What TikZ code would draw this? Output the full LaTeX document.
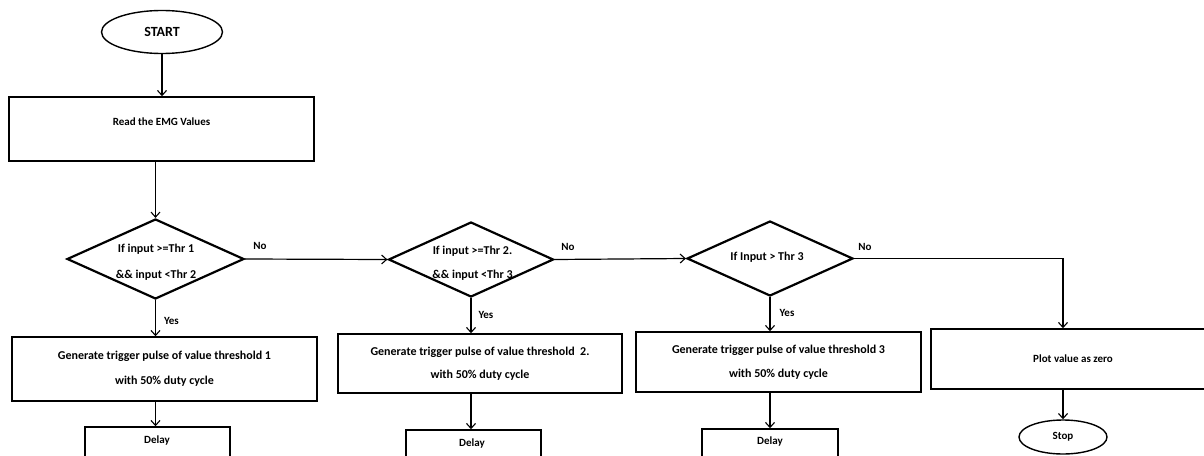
\documentclass[tikz,border=0pt]{standalone}
\usepackage{fontspec}
\setmainfont{Carlito}
\usetikzlibrary{shapes.geometric,arrows.meta,calc}
\begin{document}
\begin{tikzpicture}[x=1pt,y=-1pt,
  every node/.style={font=\bfseries\fontsize{11}{13}\selectfont},
  big/.style={font=\bfseries\fontsize{12}{14}\selectfont},
  box/.style={draw,line width=1.5pt,rectangle,inner sep=0pt,align=center},
  dia/.style={draw,diamond,line width=2.2pt,inner sep=0pt},
  oval/.style={draw,ellipse,line width=1.4pt,inner sep=0pt},
  txt/.style={inner sep=0pt,align=center},
  conn/.style={line width=1.2pt,-{Straight Barb[length=5pt,width=9pt,line width=1.1pt]}},
  plain/.style={line width=1.2pt}
]
\fill[white] (0,0) rectangle (1204,455);
\useasboundingbox (0,0) rectangle (1204,455);

% start
\node[oval,minimum width=121pt,minimum height=43pt,font=\bfseries\fontsize{14}{16}\selectfont] (start) at (162,32) {START};
% read
\node[box,minimum width=305pt,minimum height=64pt] (read) at (161.5,129) {};
\node[txt] (readt) at (161.5,122) {Read the EMG Values};

% decisions
\node[dia,minimum width=177pt,minimum height=80pt] (d1) at (155.5,259) {};
\node[txt,big] (d1t) at (156,262.5) {If input >=Thr 1\\[12pt]\&\& input <Thr 2};
\node[dia,minimum width=165pt,minimum height=75pt] (d2) at (471,259.5) {};
\node[txt,big] (d2t) at (472.5,263) {If input >=Thr 2.\\[10pt]\&\& input <Thr 3};
\node[dia,minimum width=166pt,minimum height=75pt] (d3) at (770,258.5) {};
\node[txt,big] (d3t) at (767,257) {If Input > Thr 3};

% action boxes
\node[box,big,minimum width=305pt,minimum height=64pt] (b1) at (164.5,369) {Generate trigger pulse of value threshold 1\\[11pt]with 50\% duty cycle};
\node[box,big,minimum width=284pt,minimum height=59pt] (b2) at (480,363.5) {Generate trigger pulse of value threshold~~2.\\[9pt]with 50\% duty cycle};
\node[box,big,minimum width=285pt,minimum height=60pt] (b3) at (778.5,362) {Generate trigger pulse of value threshold 3\\[10pt]with 50\% duty cycle};
\node[box,minimum width=284pt,minimum height=60pt] (b4) at (1073,359) {Plot value as zero};

% delays
\node[box,minimum width=145pt,minimum height=60pt] (dl1) at (157.5,457) {};
\node[txt] (dl1t) at (157,440) {Delay};
\node[box,minimum width=135pt,minimum height=60pt] (dl2) at (473.5,460) {};
\node[txt] (dl2t) at (472,443) {Delay};
\node[box,minimum width=136pt,minimum height=60pt] (dl3) at (770,459) {};
\node[txt] (dl3t) at (770,441) {Delay};

% stop
\node[oval,minimum width=88pt,minimum height=34pt] (stop) at (1063,437) {Stop};

% connectors
\draw[conn] (start.south) -- (read.north -| start.south);
\draw[conn] (read.south -| d1) -- (d1.north);
\draw[conn] (d1.east) -- (d2.west);
\draw[conn] (d2.east) -- (d3.west);
\draw[conn] (d3.east) -| (b4.north -| stop);
\draw[conn] (d1.south) -- (b1.north -| d1);
\draw[conn] (d2.south) -- (b2.north -| d2);
\draw[conn] (d3.south) -- (b3.north -| d3);
\draw[conn] (b1.south -| d1) -- (dl1.north -| d1);
\draw[conn] (b2.south -| d2) -- (dl2.north -| d2);
\draw[conn] (b3.south -| d3) -- (dl3.north -| d3);
\draw[conn] (b4.south -| stop) -- (stop.north);

% labels
\node[txt] (no1) at (260,246) {No};
\node[txt] (no2) at (568,247) {No};
\node[txt] (no3) at (865,247) {No};
\node[txt] (yes1) at (171.5,321) {Yes};
\node[txt] (yes2) at (486,315) {Yes};
\node[txt] (yes3) at (787,313) {Yes};
\end{tikzpicture}
\end{document}
